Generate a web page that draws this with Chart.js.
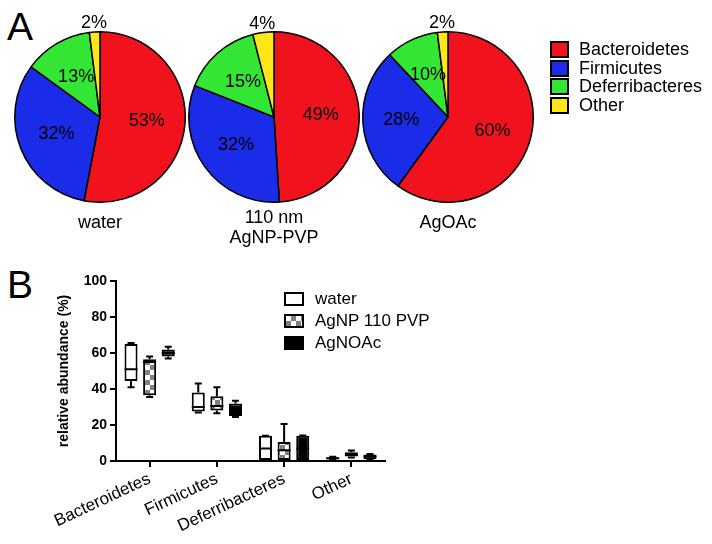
<!DOCTYPE html>
<html>
<head>
<meta charset="utf-8">
<script src="https://cdn.jsdelivr.net/npm/chart.js@4.4.0/dist/chart.umd.min.js"></script>
<style>
  body { margin: 0; background: #fff; font-family: "Liberation Sans", Arial, sans-serif; }
  #page { position: relative; width: 712px; height: 544px; overflow: hidden; }
  canvas, .abs { position: absolute; }
  .letter { font-size: 39px; line-height: 1; color: #000; }
  .pie-name { font-size: 18px; line-height: 20px; text-align: center; width: 160px; color: #000; }
  .leg-row { position: absolute; display: flex; align-items: center; white-space: nowrap; color: #000; }
  .leg-row span.sw { box-sizing: border-box; border: 2px solid #000; display: inline-block; }
</style>
</head>
<body>
<div id="page">
  <div class="abs letter" style="left:7px; top:7px;">A</div>
  <div class="abs letter" style="left:7px; top:265px;">B</div>
  <canvas id="pie0" width="210" height="210" style="left:-5px; top:12px;"></canvas>
  <canvas id="pie1" width="210" height="210" style="left:169px; top:12px;"></canvas>
  <canvas id="pie2" width="210" height="210" style="left:343px; top:12px;"></canvas>
  <div id="pieNamesBox"></div>
  <div id="pieLegend"></div>
  <canvas id="box" width="420" height="289" style="left:0; top:255px;"></canvas>
  <div id="boxLegend"></div>
</div>
<script>
// pie data (% of reads)
const taxa = ['Bacteroidetes', 'Firmicutes', 'Deferribacteres', 'Other'];
const taxaColors = ['#f0121c', '#1a2ce8', '#33e633', '#ffe619'];
const pieNames = [['water'], ['110 nm', 'AgNP-PVP'], ['AgOAc']];
const waterPie = [53, 32, 13, 2];
const agnpPie = [49, 32, 15, 4];
const agoacPie = [60, 28, 10, 2];

// box plot data, per taxon: [min, q1, median, q3, max]
const groups = ['water', 'AgNP 110 PVP', 'AgNOAc'];
const waterBox = [[41, 44.5, 51, 65, 65.5], [27, 27.5, 30, 38, 43], [0, 0, 7, 14, 14], [0.8, 1, 1.5, 2, 2.4]];
const agnpBox = [[35.5, 36.5, 55, 56.5, 58], [26.5, 28, 30.5, 36, 41], [0, 0, 6, 10.5, 20.5], [2, 2.5, 3.5, 4.8, 5.8]];
const agoacBox = [[57, 58, 60, 62, 63.5], [24.5, 25, 28, 32, 33.5], [0, 0, 7, 14, 14.2], [0.8, 1, 2.5, 3.6, 3.9]];
const yTicks = [0, 20, 40, 60, 80, 100];

const FONT = '"Liberation Sans", Arial, sans-serif';

// ---- pies ----
const pieLabels = {
    id: 'pieLabels',
    afterDatasetsDraw(chart) {
        const ctx = chart.ctx;
        const values = chart.data.datasets[0].data;
        ctx.save();
        ctx.font = '18px ' + FONT;
        ctx.fillStyle = '#000';
        ctx.textAlign = 'center';
        ctx.textBaseline = 'middle';
        chart.getDatasetMeta(0).data.forEach((arc, i) => {
            const p = arc.getProps(['x', 'y', 'startAngle', 'endAngle', 'outerRadius'], true);
            const mid = (p.startAngle + p.endAngle) / 2;
            const r = values[i] < 5 ? p.outerRadius * 1.1 : p.outerRadius * 0.55;
            ctx.fillText(values[i] + '%', p.x + Math.cos(mid) * r, p.y + Math.sin(mid) * r);
        });
        ctx.restore();
    }
};

[waterPie, agnpPie, agoacPie].forEach((vals, k) => {
    new Chart(document.getElementById('pie' + k), {
        type: 'pie',
        data: {
            labels: taxa,
            datasets: [{ data: vals, backgroundColor: taxaColors, borderColor: '#000', borderWidth: 1.5 }]
        },
        options: {
            responsive: false,
            animation: false,
            layout: { padding: 19 },
            plugins: { legend: { display: false }, tooltip: { enabled: false } }
        },
        plugins: [pieLabels]
    });
});

// names under pies
const pieCenters = [100, 274, 448];
const namesBox = document.getElementById('pieNamesBox');
pieNames.forEach((lines, k) => {
    const d = document.createElement('div');
    d.className = 'abs pie-name';
    d.style.left = (pieCenters[k] - 80) + 'px';
    d.style.top = (lines.length > 1 ? 207 : 212) + 'px';
    d.innerHTML = lines.join('<br>');
    namesBox.appendChild(d);
});

// pie legend
const pieLegend = document.getElementById('pieLegend');
taxa.forEach((t, i) => {
    const row = document.createElement('div');
    row.className = 'leg-row';
    row.style.left = '550px';
    row.style.top = (39 + i * 18.7) + 'px';
    row.style.fontSize = '18px';
    row.innerHTML = '<span class="sw" style="width:19px;height:17px;background:' + taxaColors[i] +
        ';margin-right:10px"></span>' + t;
    pieLegend.appendChild(row);
});

// ---- box plot ----
const checker = document.createElement('canvas');
checker.width = 10; checker.height = 10;
const cctx = checker.getContext('2d');
cctx.fillStyle = '#fff'; cctx.fillRect(0, 0, 10, 10);
cctx.fillStyle = '#808080'; cctx.fillRect(0, 0, 5, 5); cctx.fillRect(5, 5, 5, 5);
const checkerPattern = cctx.createPattern(checker, 'repeat');

const boxFills = ['#fff', checkerPattern, '#000'];
const boxSets = [waterBox, agnpBox, agoacBox];

const whiskers = {
    id: 'whiskers',
    afterDatasetsDraw(chart) {
        const ctx = chart.ctx;
        const y = chart.scales.y;
        ctx.save();
        ctx.strokeStyle = '#000';
        ctx.lineWidth = 2;
        boxSets.forEach((set, d) => {
            chart.getDatasetMeta(d).data.forEach((bar, i) => {
                const [mn, q1, med, q3, mx] = set[i];
                const x = bar.x, w = bar.width, cap = 7;
                ctx.beginPath();
                ctx.moveTo(x, y.getPixelForValue(q3)); ctx.lineTo(x, y.getPixelForValue(mx));
                ctx.moveTo(x - cap / 2, y.getPixelForValue(mx)); ctx.lineTo(x + cap / 2, y.getPixelForValue(mx));
                ctx.moveTo(x, y.getPixelForValue(q1)); ctx.lineTo(x, y.getPixelForValue(mn));
                ctx.moveTo(x - cap / 2, y.getPixelForValue(mn)); ctx.lineTo(x + cap / 2, y.getPixelForValue(mn));
                ctx.moveTo(x - w / 2, y.getPixelForValue(med)); ctx.lineTo(x + w / 2, y.getPixelForValue(med));
                ctx.stroke();
            });
        });
        ctx.restore();
    }
};

new Chart(document.getElementById('box'), {
    type: 'bar',
    data: {
        labels: taxa,
        datasets: groups.map((g, d) => ({
            label: g,
            data: boxSets[d].map(b => [b[1], b[3]]),
            backgroundColor: boxFills[d],
            borderColor: '#000',
            borderWidth: 2,
            borderSkipped: false,
            categoryPercentage: 0.83,
            barPercentage: 0.7
        }))
    },
    options: {
        responsive: false,
        animation: false,
        layout: { padding: { left: 56, top: 26, right: 35, bottom: 0 } },
        plugins: { legend: { display: false }, tooltip: { enabled: false } },
        scales: {
            x: {
                afterFit(scale) { scale.height = 83; scale.paddingLeft = 0; scale.paddingRight = 0; },
                grid: { drawOnChartArea: false, offset: false, tickLength: 6, color: '#000', lineWidth: 2 },
                border: { color: '#000', width: 2 },
                ticks: { minRotation: 25, maxRotation: 25, padding: 2, color: '#000', font: { family: FONT, size: 17 } }
            },
            y: {
                min: 0, max: 100,
                afterFit(scale) { scale.width = 60; },
                afterBuildTicks(scale) { scale.ticks = yTicks.map(v => ({ value: v })); },
                grid: { drawOnChartArea: false, tickLength: 6, color: '#000', lineWidth: 2 },
                border: { color: '#000', width: 2 },
                ticks: { padding: 3, color: '#000', font: { family: FONT, size: 14, weight: 'bold' } },
                title: { display: true, text: 'relative abundance (%)', color: '#000', padding: 0,
                    font: { family: FONT, size: 14, weight: 'bold' } }
            }
        }
    },
    plugins: [whiskers]
});

// box legend
const boxLegend = document.getElementById('boxLegend');
const swatchCss = [
    'background:#fff',
    'background:repeating-conic-gradient(#808080 0 25%, #fff 0 50%) 0 0/10px 10px',
    'background:#000'
];
groups.forEach((g, i) => {
    const row = document.createElement('div');
    row.className = 'leg-row';
    row.style.left = '284px';
    row.style.top = (289 + i * 22) + 'px';
    row.style.fontSize = '17px';
    row.innerHTML = '<span class="sw" style="width:20px;height:14px;' + swatchCss[i] +
        ';margin-right:11px"></span>' + g;
    boxLegend.appendChild(row);
});
</script>
</body>
</html>
